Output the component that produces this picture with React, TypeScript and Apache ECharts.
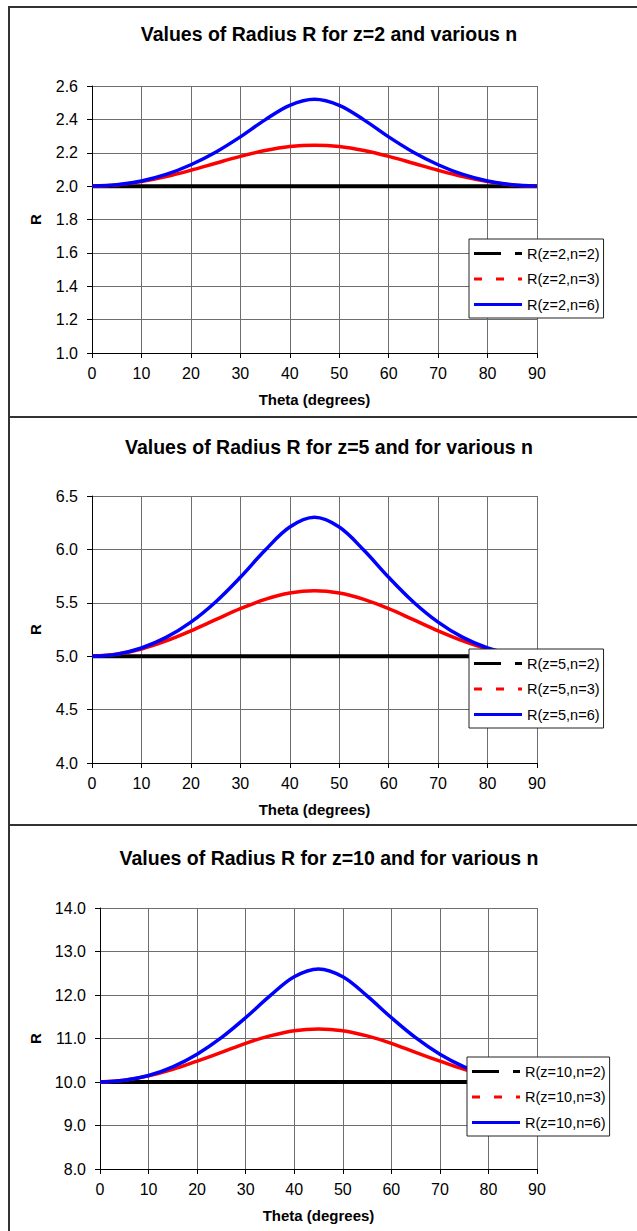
import React, { useEffect, useRef } from "react";
import * as echarts from "echarts";

// ---- data ----
const theta = [0, 5, 10, 15, 20, 25, 30, 35, 40, 45, 50, 55, 60, 65, 70, 75, 80, 85, 90];

const rZ2N2 = [2.0, 2.0, 2.0, 2.0, 2.0, 2.0, 2.0, 2.0, 2.0, 2.0, 2.0, 2.0, 2.0, 2.0, 2.0, 2.0, 2.0, 2.0, 2.0];
const rZ2N3 = [2.0, 2.007, 2.027, 2.057, 2.095, 2.137, 2.178, 2.213, 2.237, 2.245, 2.237, 2.213, 2.178, 2.137, 2.095, 2.057, 2.027, 2.007, 2.0];
const rZ2N6 = [2.0, 2.008, 2.031, 2.07, 2.128, 2.203, 2.295, 2.397, 2.484, 2.52, 2.484, 2.397, 2.295, 2.203, 2.128, 2.07, 2.031, 2.008, 2.0];

const rZ5N2 = [5.0, 5.0, 5.0, 5.0, 5.0, 5.0, 5.0, 5.0, 5.0, 5.0, 5.0, 5.0, 5.0, 5.0, 5.0, 5.0, 5.0, 5.0, 5.0];
const rZ5N3 = [5.0, 5.018, 5.068, 5.144, 5.238, 5.342, 5.445, 5.532, 5.591, 5.612, 5.591, 5.532, 5.445, 5.342, 5.238, 5.144, 5.068, 5.018, 5.0];
const rZ5N6 = [5.0, 5.019, 5.077, 5.176, 5.319, 5.508, 5.739, 5.992, 6.209, 6.3, 6.209, 5.992, 5.739, 5.508, 5.319, 5.176, 5.077, 5.019, 5.0];

const rZ10N2 = [10.0, 10.0, 10.0, 10.0, 10.0, 10.0, 10.0, 10.0, 10.0, 10.0, 10.0, 10.0, 10.0, 10.0, 10.0, 10.0, 10.0, 10.0, 10.0];
const rZ10N3 = [10.0, 10.04, 10.14, 10.29, 10.48, 10.68, 10.89, 11.06, 11.18, 11.22, 11.18, 11.06, 10.89, 10.68, 10.48, 10.29, 10.14, 10.04, 10.0];
const rZ10N6 = [10.0, 10.04, 10.15, 10.35, 10.64, 11.02, 11.48, 11.98, 12.42, 12.6, 12.42, 11.98, 11.48, 11.02, 10.64, 10.35, 10.15, 10.04, 10.0];

const xTicks = [0, 10, 20, 30, 40, 50, 60, 70, 80, 90];
const yTicksZ2 = [1.0, 1.2, 1.4, 1.6, 1.8, 2.0, 2.2, 2.4, 2.6];
const yTicksZ5 = [4.0, 4.5, 5.0, 5.5, 6.0, 6.5];
const yTicksZ10 = [8.0, 9.0, 10.0, 11.0, 12.0, 13.0, 14.0];

const titles = [
  "Values of Radius R for z=2 and various n",
  "Values of Radius R for z=5 and for various n",
  "Values of Radius R for z=10 and for various n",
];
const namesZ2 = ["R(z=2,n=2)", "R(z=2,n=3)", "R(z=2,n=6)"];
const namesZ5 = ["R(z=5,n=2)", "R(z=5,n=3)", "R(z=5,n=6)"];
const namesZ10 = ["R(z=10,n=2)", "R(z=10,n=3)", "R(z=10,n=6)"];
const xName = "Theta (degrees)";
const yName = "R";

// ---- styling / layout ----
const FONT = "'Liberation Sans', Arial, sans-serif";
const colors = ["#000000", "#ff0000", "#0000ff"];
const widths = [4, 3.5, 3.5];
const icons = [
  "path://M0,0 L27,0 L27,3 L0,3 Z M41,0 L48,0 L48,3 L41,3 Z",
  "path://M0,0 L8,0 L8,3 L0,3 Z M22,0 L30,0 L30,3 L22,3 Z M44,0 L48,0 L48,3 L44,3 Z",
  "path://M0,0 L48,0 L48,3 L0,3 Z",
];

const panels = [
  {
    title: titles[0], titleY: 34, names: namesZ2, values: [rZ2N2, rZ2N3, rZ2N6], yTicks: yTicksZ2,
    grid: { left: 92, top: 86, width: 445, height: 267 }, legend: { left: 469, top: 239 }, yNameGap: 49,
  },
  {
    title: titles[1], titleY: 447, names: namesZ5, values: [rZ5N2, rZ5N3, rZ5N6], yTicks: yTicksZ5,
    grid: { left: 92, top: 496, width: 445, height: 267 }, legend: { left: 469, top: 649 }, yNameGap: 49,
  },
  {
    title: titles[2], titleY: 858, names: namesZ10, values: [rZ10N2, rZ10N3, rZ10N6], yTicks: yTicksZ10,
    grid: { left: 100, top: 908, width: 437, height: 261 }, legend: { left: 467, top: 1057 }, yNameGap: 57,
  },
];

function buildOption() {
  const grid: any[] = [];
  const xAxis: any[] = [];
  const yAxis: any[] = [];
  const series: any[] = [];
  const legend: any[] = [];
  const graphic: any[] = [];

  panels.forEach((p, i) => {
    grid.push({ ...p.grid, containLabel: false, show: false });
    xAxis.push({
      type: "value",
      gridIndex: i,
      min: xTicks[0],
      max: xTicks[xTicks.length - 1],
      interval: xTicks[1] - xTicks[0],
      axisLine: { show: true, onZero: false, lineStyle: { color: "#000", width: 1 } },
      axisTick: { show: true, inside: false, length: 5, lineStyle: { color: "#000", width: 1 } },
      axisLabel: { color: "#000", fontSize: 16, fontFamily: FONT, margin: 12 },
      splitLine: { show: true, lineStyle: { color: "#6e6e6e", width: 1 } },
      name: xName,
      nameLocation: "middle",
      nameGap: 39,
      nameTextStyle: { color: "#000", fontSize: 15, fontWeight: "bold", fontFamily: FONT },
    });
    const yt = p.yTicks;
    yAxis.push({
      type: "value",
      gridIndex: i,
      min: yt[0],
      max: yt[yt.length - 1],
      interval: yt[1] - yt[0],
      axisLine: { show: true, onZero: false, lineStyle: { color: "#000", width: 1 } },
      axisTick: { show: true, inside: false, length: 5, lineStyle: { color: "#000", width: 1 } },
      axisLabel: {
        color: "#000", fontSize: 16, fontFamily: FONT, margin: 14,
        formatter: (v: number) => v.toFixed(1),
      },
      splitLine: { show: true, lineStyle: { color: "#6e6e6e", width: 1 } },
      name: yName,
      nameLocation: "middle",
      nameGap: p.yNameGap,
      nameTextStyle: { color: "#000", fontSize: 15, fontWeight: "bold", fontFamily: FONT },
    });
    p.names.forEach((name, k) => {
      series.push({
        type: "line",
        name,
        xAxisIndex: i,
        yAxisIndex: i,
        data: theta.map((t, j) => [t, p.values[k][j]]),
        showSymbol: false,
        symbol: "none",
        smooth: k === 0 ? false : 0.35,
        lineStyle: { color: colors[k], width: widths[k], type: "solid" },
        itemStyle: { color: colors[k] },
        z: 2 + k,
      });
    });
    legend.push({
      orient: "vertical",
      left: p.legend.left,
      top: p.legend.top,
      padding: [7, 4, 6, 5],
      itemGap: 10.5,
      itemWidth: 48,
      itemHeight: 3,
      backgroundColor: "#ffffff",
      borderColor: "#222",
      borderWidth: 1,
      borderRadius: 0,
      selectedMode: false,
      itemStyle: { borderWidth: 0 },
      textStyle: { color: "#000", fontSize: 14.5, fontFamily: FONT },
      data: p.names.map((n, k) => ({ name: n, icon: icons[k] })),
      z: 10,
    });
    graphic.push({
      type: "text",
      x: 329,
      y: p.titleY,
      style: {
        text: p.title,
        fill: "#000",
        font: `bold 19.5px ${FONT}`,
        align: "center",
        verticalAlign: "middle",
      },
    });
  });

  const frame = { stroke: "#333", lineWidth: 2 };
  graphic.push(
    { type: "line", shape: { x1: 9, y1: 6, x2: 9, y2: 1231 }, style: frame },
    { type: "line", shape: { x1: 8, y1: 7, x2: 637, y2: 7 }, style: frame },
    { type: "line", shape: { x1: 8, y1: 417, x2: 637, y2: 417 }, style: frame },
    { type: "line", shape: { x1: 8, y1: 825, x2: 637, y2: 825 }, style: frame }
  );

  return {
    animation: false,
    backgroundColor: "#ffffff",
    textStyle: { fontFamily: FONT },
    grid,
    xAxis,
    yAxis,
    series,
    legend,
    graphic,
  };
}

export default function App() {
  const ref = useRef<HTMLDivElement>(null);
  useEffect(() => {
    if (!ref.current) return;
    const chart = echarts.init(ref.current, undefined, { renderer: "svg" });
    chart.setOption(buildOption() as any);
    return () => chart.dispose();
  }, []);
  return (
    <div
      ref={ref}
      style={{ position: "absolute", left: 0, top: 0, width: 637, height: 1231, background: "#fff" }}
    />
  );
}
